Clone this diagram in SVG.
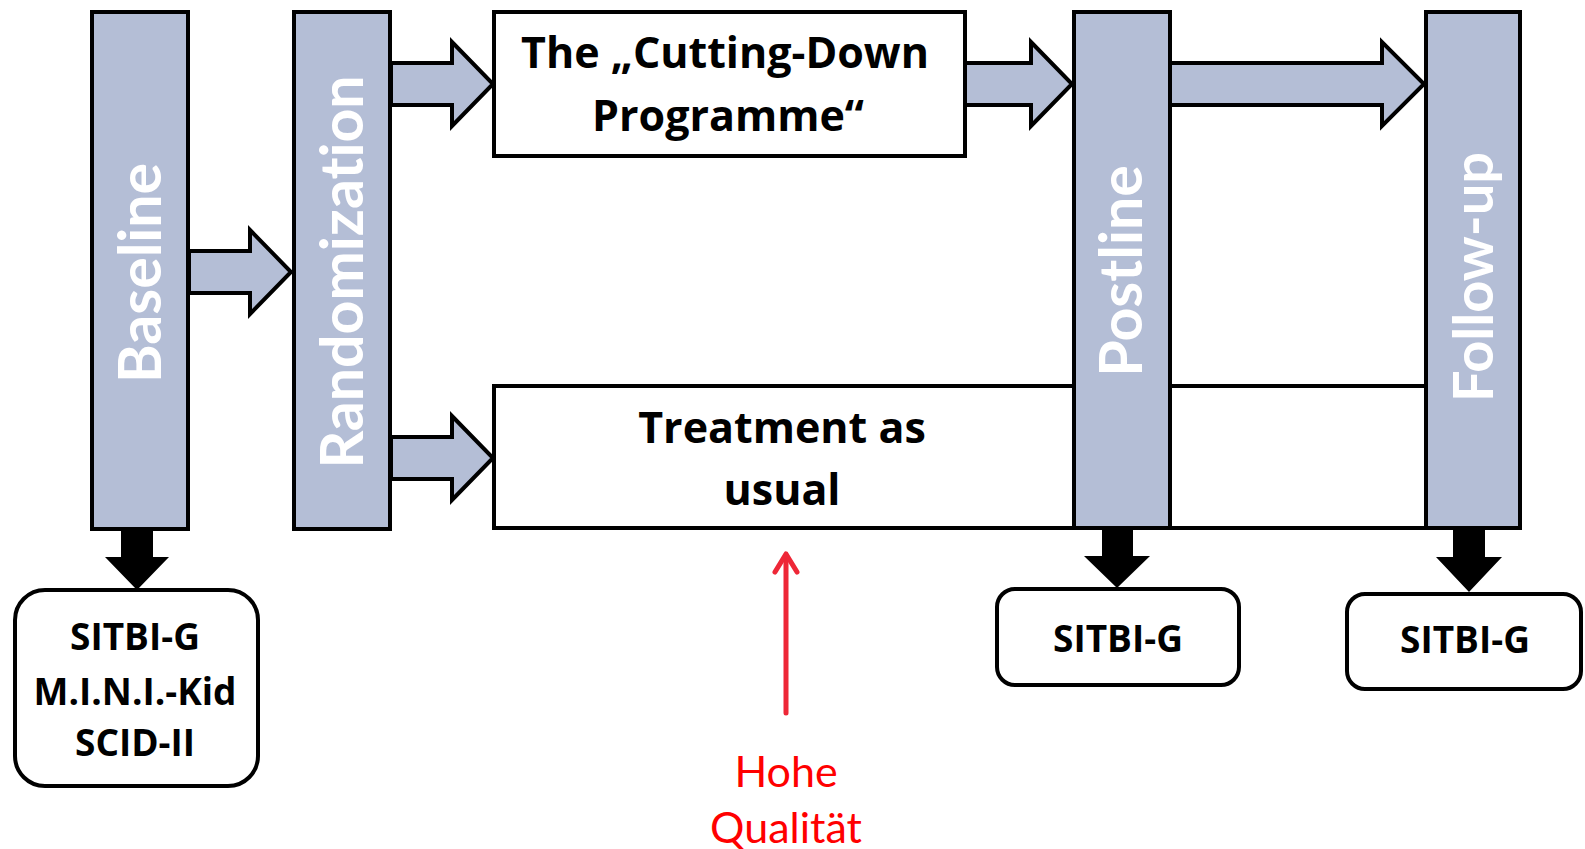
<svg xmlns="http://www.w3.org/2000/svg" width="1585" height="849" viewBox="0 0 1585 849">
<style>
.bar{fill:#b4bed6;stroke:#000;stroke-width:4}
.box{fill:#fff;stroke:#000;stroke-width:4}
.rbox{fill:#fff;stroke:#000;stroke-width:4}
.barr{fill:#b4bed6;stroke:#000;stroke-width:4;stroke-linejoin:miter}
.down{fill:#000;stroke:none}
.vt{font-family:Lato,"Open Sans",sans-serif;font-weight:bold;font-size:59px;fill:#fff;text-anchor:middle;font-variant-ligatures:none}
.bt{font-family:"Open Sans",Lato,sans-serif;font-weight:bold;font-size:43px;fill:#000;text-anchor:middle;font-variant-ligatures:none}
.st{font-family:"Open Sans",Lato,sans-serif;font-weight:bold;font-size:37px;fill:#000;text-anchor:middle}
.rt{font-family:Lato,"Open Sans",sans-serif;font-size:43px;fill:#ff0000;text-anchor:middle}
</style>
<rect width="1585" height="849" fill="#fff"/>
<g id="treatment">
<rect class="box" x="494" y="386" width="932" height="142"/>
<text class="bt" x="782" y="443">Treatment as</text>
<text class="bt" x="782" y="505">usual</text>
</g>
<g id="cutting-down">
<rect class="box" x="494" y="12" width="471" height="144"/>
<text class="bt" x="725" y="68">The „Cutting-Down</text>
<text class="bt" x="728" y="131">Programme“</text>
</g>
<g id="baseline">
<rect class="bar" x="92" y="12" width="96" height="517"/>
<text class="vt" transform="translate(161,273) rotate(-90)">Baseline</text>
</g>
<g id="randomization">
<rect class="bar" x="294" y="12" width="96" height="517"/>
<text class="vt" transform="translate(363,272) rotate(-90)">Randomization</text>
</g>
<g id="postline">
<rect class="bar" x="1074" y="12" width="96" height="516"/>
<text class="vt" transform="translate(1142,271) rotate(-90)">Postline</text>
</g>
<g id="follow-up">
<rect class="bar" x="1426" y="12" width="94" height="516"/>
<text class="vt" transform="translate(1493,277) rotate(-90)" style="font-size:56px">Follow-up</text>
</g>
<g id="baseline-measures">
<rect class="rbox" x="15" y="590" width="243" height="196" rx="30"/>
<text class="st" x="135" y="650">SITBI-G</text>
<text class="st" x="135" y="705">M.I.N.I.-Kid</text>
<text class="st" x="135" y="756">SCID-II</text>
</g>
<g id="postline-measures">
<rect class="rbox" x="997" y="589" width="242" height="96" rx="18"/>
<text class="st" x="1118" y="652">SITBI-G</text>
</g>
<g id="follow-up-measures">
<rect class="rbox" x="1347" y="594" width="234" height="95" rx="18"/>
<text class="st" x="1465" y="653">SITBI-G</text>
</g>
<g id="note">
<text class="rt" x="786" y="787">Hohe</text>
<text class="rt" x="786" y="843">Qualität</text>
</g>
<g id="connectors">
<path class="barr" d="M189,251 H250 V230 L291,272 L250,314 V293 H189 Z"/>
<path class="barr" d="M391,63 H452 V42 L493,84 L452,126 V105 H391 Z"/>
<path class="barr" d="M391,437 H452 V416 L493,458 L452,500 V479 H391 Z"/>
<path class="barr" d="M965,63 H1031 V42 L1072,84 L1031,126 V105 H965 Z"/>
<path class="barr" d="M1170,63 H1382 V42 L1424,84 L1382,126 V105 H1170 Z"/>
<path class="down" d="M121,528 H153 V557 H169 L137,590 L105,557 H121 Z"/>
<path class="down" d="M1102,527 H1133 V556 H1150 L1117,588 L1084,556 H1102 Z"/>
<path class="down" d="M1453,527 H1485 V557 H1502 L1469,592 L1436,557 H1453 Z"/>
<g stroke="#ee2737" stroke-width="5" fill="none" stroke-linecap="round" stroke-linejoin="round">
<line x1="786" y1="713" x2="786" y2="555"/>
<polyline points="775,572 786,554 797,572"/>
</g>
</g>
</svg>
